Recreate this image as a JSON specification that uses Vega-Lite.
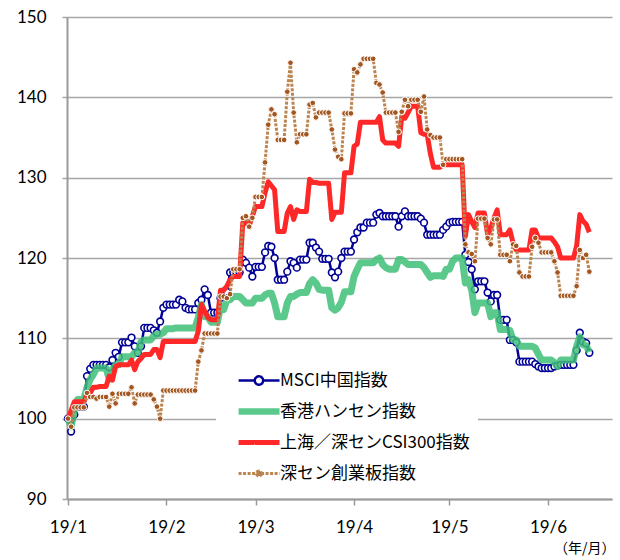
{
  "$schema": "https://vega.github.io/schema/vega-lite/v6.json",
  "width": 545,
  "height": 482,
  "autosize": {"type": "none"},
  "padding": {"left": 67, "top": 17, "right": 8, "bottom": 61},
  "background": "white",
  "config": {"view": {"stroke": null}, "font": "Lato"},
  "data": {"values": [
    {"d":"2019-01-01","m":100,"h":100,"c":100,"s":100},
    {"d":"2019-01-02","m":98.4,"h":99.0,"c":101.0,"s":99.0},
    {"d":"2019-01-03","m":100.5,"h":101.0,"c":102.1,"s":101.4},
    {"d":"2019-01-04","m":101.5,"h":102.4,"c":102.1,"s":101.4},
    {"d":"2019-01-05","m":101.5,"h":102.4,"c":102.1,"s":101.4},
    {"d":"2019-01-06","m":101.5,"h":102.4,"c":102.1,"s":101.4},
    {"d":"2019-01-07","m":105.3,"h":103.9,"c":103.0,"s":103.2},
    {"d":"2019-01-08","m":106.2,"h":104.9,"c":103.2,"s":102.7},
    {"d":"2019-01-09","m":106.7,"h":105.5,"c":103.9,"s":102.7},
    {"d":"2019-01-10","m":106.7,"h":106.3,"c":103.9,"s":102.5},
    {"d":"2019-01-11","m":106.7,"h":106.3,"c":104.0,"s":102.7},
    {"d":"2019-01-12","m":106.7,"h":106.3,"c":104.0,"s":102.7},
    {"d":"2019-01-13","m":106.7,"h":106.3,"c":104.0,"s":102.7},
    {"d":"2019-01-14","m":106.4,"h":104.9,"c":105.3,"s":101.5},
    {"d":"2019-01-15","m":107.3,"h":106.1,"c":104.8,"s":103.1},
    {"d":"2019-01-16","m":108.2,"h":106.7,"c":106.5,"s":101.9},
    {"d":"2019-01-17","m":107.7,"h":106.7,"c":106.7,"s":103.1},
    {"d":"2019-01-18","m":109.5,"h":107.7,"c":106.7,"s":103.1},
    {"d":"2019-01-19","m":109.5,"h":107.7,"c":106.7,"s":103.1},
    {"d":"2019-01-20","m":109.5,"h":107.7,"c":106.7,"s":103.1},
    {"d":"2019-01-21","m":110.1,"h":107.7,"c":107.3,"s":103.9},
    {"d":"2019-01-22","m":109.0,"h":108.2,"c":106.1,"s":101.9},
    {"d":"2019-01-23","m":108.2,"h":108.2,"c":107.1,"s":103.0},
    {"d":"2019-01-24","m":109.0,"h":109.6,"c":107.5,"s":103.0},
    {"d":"2019-01-25","m":111.3,"h":109.8,"c":108.0,"s":103.0},
    {"d":"2019-01-26","m":111.3,"h":109.8,"c":108.0,"s":103.0},
    {"d":"2019-01-27","m":111.3,"h":109.8,"c":108.0,"s":103.0},
    {"d":"2019-01-28","m":111.0,"h":110.3,"c":108.6,"s":102.4},
    {"d":"2019-01-29","m":110.7,"h":110.5,"c":108.6,"s":101.5},
    {"d":"2019-01-30","m":112.1,"h":110.5,"c":107.6,"s":100.0},
    {"d":"2019-01-31","m":113.8,"h":110.7,"c":109.6,"s":103.5},
    {"d":"2019-02-01","m":114.2,"h":111.2,"c":109.6,"s":103.5},
    {"d":"2019-02-02","m":114.2,"h":111.2,"c":109.6,"s":103.5},
    {"d":"2019-02-03","m":114.2,"h":111.2,"c":109.6,"s":103.5},
    {"d":"2019-02-04","m":114.2,"h":111.3,"c":109.6,"s":103.5},
    {"d":"2019-02-05","m":114.8,"h":111.3,"c":109.6,"s":103.5},
    {"d":"2019-02-06","m":114.6,"h":111.3,"c":109.6,"s":103.5},
    {"d":"2019-02-07","m":113.8,"h":111.3,"c":109.6,"s":103.5},
    {"d":"2019-02-08","m":113.6,"h":111.3,"c":109.6,"s":103.5},
    {"d":"2019-02-09","m":113.6,"h":111.3,"c":109.6,"s":103.5},
    {"d":"2019-02-10","m":113.6,"h":111.3,"c":109.6,"s":103.5},
    {"d":"2019-02-11","m":114.4,"h":112.6,"c":110.9,"s":107.1},
    {"d":"2019-02-12","m":114.8,"h":114.2,"c":114.2,"s":108.5},
    {"d":"2019-02-13","m":116.1,"h":112.7,"c":113.4,"s":110.6},
    {"d":"2019-02-14","m":115.4,"h":112.7,"c":112.6,"s":110.6},
    {"d":"2019-02-15","m":113.2,"h":112.0,"c":112.3,"s":110.6},
    {"d":"2019-02-16","m":113.2,"h":112.0,"c":112.3,"s":110.6},
    {"d":"2019-02-17","m":113.2,"h":112.0,"c":112.3,"s":110.6},
    {"d":"2019-02-18","m":115.0,"h":114.0,"c":116.0,"s":115.2},
    {"d":"2019-02-19","m":115.8,"h":113.6,"c":116.0,"s":115.2},
    {"d":"2019-02-20","m":115.8,"h":114.8,"c":116.5,"s":115.0},
    {"d":"2019-02-21","m":118.2,"h":114.8,"c":117.3,"s":115.5},
    {"d":"2019-02-22","m":118.2,"h":115.2,"c":117.7,"s":118.6},
    {"d":"2019-02-23","m":118.2,"h":115.2,"c":117.7,"s":118.6},
    {"d":"2019-02-24","m":118.2,"h":115.2,"c":117.7,"s":118.6},
    {"d":"2019-02-25","m":119.8,"h":114.8,"c":124.4,"s":125.0},
    {"d":"2019-02-26","m":119.4,"h":114.4,"c":124.4,"s":125.2},
    {"d":"2019-02-27","m":118.8,"h":114.4,"c":124.0,"s":123.9},
    {"d":"2019-02-28","m":117.7,"h":114.4,"c":125.2,"s":125.0},
    {"d":"2019-03-01","m":118.9,"h":115.0,"c":126.4,"s":127.6},
    {"d":"2019-03-02","m":118.9,"h":115.0,"c":126.4,"s":127.6},
    {"d":"2019-03-03","m":118.9,"h":115.0,"c":126.4,"s":127.6},
    {"d":"2019-03-04","m":120.7,"h":115.4,"c":128.1,"s":131.9},
    {"d":"2019-03-05","m":121.5,"h":115.6,"c":129.5,"s":136.6},
    {"d":"2019-03-06","m":121.4,"h":115.6,"c":129.0,"s":138.5},
    {"d":"2019-03-07","m":120.0,"h":114.4,"c":128.5,"s":137.9},
    {"d":"2019-03-08","m":117.3,"h":112.7,"c":123.3,"s":134.7},
    {"d":"2019-03-09","m":117.3,"h":112.7,"c":123.3,"s":134.7},
    {"d":"2019-03-10","m":117.3,"h":112.7,"c":123.3,"s":134.7},
    {"d":"2019-03-11","m":118.3,"h":114.4,"c":125.6,"s":140.7},
    {"d":"2019-03-12","m":119.6,"h":115.2,"c":126.4,"s":144.3},
    {"d":"2019-03-13","m":119.4,"h":115.2,"c":124.8,"s":138.1},
    {"d":"2019-03-14","m":118.8,"h":115.5,"c":126.0,"s":134.4},
    {"d":"2019-03-15","m":119.8,"h":115.7,"c":125.8,"s":135.4},
    {"d":"2019-03-16","m":119.8,"h":115.7,"c":125.8,"s":135.4},
    {"d":"2019-03-17","m":119.8,"h":115.7,"c":125.8,"s":135.4},
    {"d":"2019-03-18","m":121.9,"h":116.8,"c":129.8,"s":139.1},
    {"d":"2019-03-19","m":121.9,"h":117.3,"c":129.4,"s":139.3},
    {"d":"2019-03-20","m":121.3,"h":116.9,"c":129.4,"s":137.5},
    {"d":"2019-03-21","m":120.8,"h":116.1,"c":129.3,"s":138.1},
    {"d":"2019-03-22","m":119.9,"h":116.0,"c":129.3,"s":138.1},
    {"d":"2019-03-23","m":119.9,"h":116.0,"c":129.3,"s":138.1},
    {"d":"2019-03-24","m":119.9,"h":116.0,"c":129.3,"s":138.1},
    {"d":"2019-03-25","m":118.2,"h":113.8,"c":124.8,"s":136.0},
    {"d":"2019-03-26","m":117.6,"h":113.5,"c":125.7,"s":133.5},
    {"d":"2019-03-27","m":118.3,"h":113.8,"c":125.7,"s":132.6},
    {"d":"2019-03-28","m":120.0,"h":114.5,"c":125.7,"s":132.3},
    {"d":"2019-03-29","m":120.8,"h":115.8,"c":130.6,"s":138.0},
    {"d":"2019-03-30","m":120.8,"h":115.8,"c":130.6,"s":138.0},
    {"d":"2019-03-31","m":120.8,"h":115.8,"c":130.6,"s":138.0},
    {"d":"2019-04-01","m":122.3,"h":117.7,"c":133.9,"s":143.5},
    {"d":"2019-04-02","m":123.2,"h":118.6,"c":134.2,"s":143.1},
    {"d":"2019-04-03","m":123.8,"h":119.4,"c":136.9,"s":144.1},
    {"d":"2019-04-04","m":123.8,"h":119.4,"c":136.9,"s":144.8},
    {"d":"2019-04-05","m":124.4,"h":119.4,"c":136.9,"s":144.8},
    {"d":"2019-04-06","m":124.4,"h":119.4,"c":136.9,"s":144.8},
    {"d":"2019-04-07","m":124.4,"h":119.4,"c":136.9,"s":144.8},
    {"d":"2019-04-08","m":125.4,"h":119.8,"c":136.9,"s":141.8},
    {"d":"2019-04-09","m":125.6,"h":120.0,"c":137.6,"s":141.6},
    {"d":"2019-04-10","m":125.2,"h":119.2,"c":134.7,"s":140.6},
    {"d":"2019-04-11","m":125.2,"h":118.8,"c":134.3,"s":138.1},
    {"d":"2019-04-12","m":125.2,"h":118.6,"c":134.3,"s":138.1},
    {"d":"2019-04-13","m":125.2,"h":118.6,"c":134.3,"s":138.1},
    {"d":"2019-04-14","m":125.2,"h":118.6,"c":134.3,"s":138.1},
    {"d":"2019-04-15","m":123.9,"h":119.8,"c":133.9,"s":135.7},
    {"d":"2019-04-16","m":125.2,"h":119.8,"c":137.6,"s":138.2},
    {"d":"2019-04-17","m":125.8,"h":119.5,"c":137.4,"s":139.7},
    {"d":"2019-04-18","m":125.2,"h":119.2,"c":138.1,"s":138.9},
    {"d":"2019-04-19","m":125.2,"h":119.2,"c":138.9,"s":139.7},
    {"d":"2019-04-20","m":125.2,"h":119.2,"c":138.9,"s":139.7},
    {"d":"2019-04-21","m":125.2,"h":119.2,"c":138.9,"s":139.7},
    {"d":"2019-04-22","m":124.9,"h":119.2,"c":135.6,"s":138.2},
    {"d":"2019-04-23","m":124.4,"h":118.8,"c":135.4,"s":140.1},
    {"d":"2019-04-24","m":122.9,"h":118.2,"c":135.4,"s":136.0},
    {"d":"2019-04-25","m":122.9,"h":117.6,"c":133.0,"s":135.3},
    {"d":"2019-04-26","m":122.9,"h":117.8,"c":131.3,"s":135.0},
    {"d":"2019-04-27","m":122.9,"h":117.8,"c":131.3,"s":135.0},
    {"d":"2019-04-28","m":122.9,"h":117.8,"c":131.3,"s":135.0},
    {"d":"2019-04-29","m":123.5,"h":117.7,"c":131.6,"s":131.6},
    {"d":"2019-04-30","m":123.9,"h":118.6,"c":131.6,"s":132.3},
    {"d":"2019-05-01","m":124.4,"h":118.6,"c":131.6,"s":132.3},
    {"d":"2019-05-02","m":124.5,"h":119.6,"c":131.6,"s":132.3},
    {"d":"2019-05-03","m":124.5,"h":120.0,"c":131.6,"s":132.3},
    {"d":"2019-05-04","m":124.5,"h":120.0,"c":131.6,"s":132.3},
    {"d":"2019-05-05","m":124.5,"h":120.0,"c":131.6,"s":132.3},
    {"d":"2019-05-06","m":120.4,"h":116.9,"c":122.7,"s":121.7},
    {"d":"2019-05-07","m":119.5,"h":117.3,"c":125.4,"s":120.7},
    {"d":"2019-05-08","m":118.6,"h":116.0,"c":124.5,"s":120.5},
    {"d":"2019-05-09","m":116.1,"h":113.2,"c":123.8,"s":119.6},
    {"d":"2019-05-10","m":117.1,"h":114.4,"c":125.6,"s":124.9},
    {"d":"2019-05-11","m":117.1,"h":114.4,"c":125.6,"s":124.9},
    {"d":"2019-05-12","m":117.1,"h":114.4,"c":125.6,"s":124.9},
    {"d":"2019-05-13","m":115.7,"h":114.4,"c":122.9,"s":122.5},
    {"d":"2019-05-14","m":114.6,"h":112.7,"c":123.7,"s":121.7},
    {"d":"2019-05-15","m":115.4,"h":113.2,"c":125.0,"s":124.8},
    {"d":"2019-05-16","m":115.4,"h":113.2,"c":126.0,"s":124.8},
    {"d":"2019-05-17","m":112.3,"h":111.1,"c":122.9,"s":120.4},
    {"d":"2019-05-18","m":112.3,"h":111.1,"c":122.9,"s":120.4},
    {"d":"2019-05-19","m":112.3,"h":111.1,"c":122.9,"s":120.4},
    {"d":"2019-05-20","m":109.8,"h":111.0,"c":123.5,"s":119.6},
    {"d":"2019-05-21","m":109.8,"h":109.8,"c":121.9,"s":121.7},
    {"d":"2019-05-22","m":109.5,"h":109.8,"c":121.0,"s":121.5},
    {"d":"2019-05-23","m":107.1,"h":109.0,"c":121.0,"s":118.2},
    {"d":"2019-05-24","m":107.1,"h":109.0,"c":121.0,"s":117.7},
    {"d":"2019-05-25","m":107.1,"h":109.0,"c":121.0,"s":117.7},
    {"d":"2019-05-26","m":107.1,"h":109.0,"c":121.0,"s":117.7},
    {"d":"2019-05-27","m":107.1,"h":109.0,"c":123.5,"s":121.4},
    {"d":"2019-05-28","m":106.8,"h":108.8,"c":123.5,"s":122.5},
    {"d":"2019-05-29","m":106.5,"h":108.0,"c":122.5,"s":121.9},
    {"d":"2019-05-30","m":106.3,"h":107.3,"c":122.5,"s":120.7},
    {"d":"2019-05-31","m":106.3,"h":107.3,"c":122.5,"s":120.7},
    {"d":"2019-06-01","m":106.3,"h":107.3,"c":122.5,"s":120.7},
    {"d":"2019-06-02","m":106.3,"h":107.3,"c":122.5,"s":120.7},
    {"d":"2019-06-03","m":106.5,"h":107.0,"c":122.0,"s":119.6},
    {"d":"2019-06-04","m":106.6,"h":106.5,"c":121.4,"s":118.2},
    {"d":"2019-06-05","m":106.7,"h":107.3,"c":120.0,"s":115.3},
    {"d":"2019-06-06","m":106.7,"h":107.3,"c":120.0,"s":115.3},
    {"d":"2019-06-07","m":106.7,"h":107.3,"c":120.0,"s":115.3},
    {"d":"2019-06-08","m":106.7,"h":107.3,"c":120.0,"s":115.3},
    {"d":"2019-06-09","m":106.7,"h":107.3,"c":120.0,"s":115.3},
    {"d":"2019-06-10","m":108.5,"h":109.0,"c":121.5,"s":116.5},
    {"d":"2019-06-11","m":110.7,"h":110.2,"c":125.4,"s":121.0},
    {"d":"2019-06-12","m":109.6,"h":109.2,"c":124.6,"s":120.0},
    {"d":"2019-06-13","m":109.4,"h":109.1,"c":124.2,"s":120.4},
    {"d":"2019-06-14","m":108.2,"h":108.3,"c":123.2,"s":118.3}
  ]},
  "transform": [{"fold": ["m", "h", "c", "s"], "as": ["series", "value"]}],
  "encoding": {
    "x": {
      "field": "d", "type": "temporal",
      "scale": {"type": "utc", "domain": [
        {"year": 2018, "month": 12, "date": 31, "hours": 17, "utc": true},
        {"year": 2019, "month": 6, "date": 21, "hours": 3, "utc": true}
      ]},
      "axis": {
        "values": [
          {"year": 2019, "month": 1, "date": 1, "utc": true},
          {"year": 2019, "month": 2, "date": 1, "utc": true},
          {"year": 2019, "month": 3, "date": 1, "utc": true},
          {"year": 2019, "month": 4, "date": 1, "utc": true},
          {"year": 2019, "month": 5, "date": 1, "utc": true},
          {"year": 2019, "month": 6, "date": 1, "utc": true}
        ],
        "labelExpr": "utcFormat(datum.value, '%y/%-m')",
        "labelOverlap": false, "labelFlush": false, "labelAlign": "center",
        "grid": false,
        "domainColor": "#9A9A9A", "domainWidth": 2,
        "tickColor": "#9A9A9A", "tickWidth": 1.5, "tickSize": 6,
        "labelFontSize": 17, "labelColor": "#000", "labelPadding": 14, "labelFont": "Lato",
        "title": "（年/月）", "titleFont": "Noto Sans CJK JP", "titleFontSize": 14, "titleFontWeight": "normal",
        "titleColor": "#000", "titleAlign": "right", "titleAnchor": "end", "titleX": 548, "titleY": 49, "titleBaseline": "middle"
      }
    },
    "y": {
      "field": "value", "type": "quantitative",
      "scale": {"domain": [90, 150], "nice": false, "zero": false},
      "axis": {
        "values": [90, 100, 110, 120, 130, 140, 150],
        "grid": true, "gridColor": "#A6A6A6", "gridWidth": 1.5,
        "domainColor": "#9A9A9A", "domainWidth": 2,
        "tickColor": "#A6A6A6", "tickWidth": 1.5, "tickSize": 5,
        "labelFontSize": 17, "labelColor": "#000", "labelPadding": 16, "labelFont": "Lato",
        "title": null
      }
    },
    "color": {"field": "series", "type": "nominal", "title": null,
      "scale": {"domain": ["m", "h", "c", "s"], "range": ["#000096", "rgba(62,190,120,0.85)", "#FF2828", "#BC8450"]},
      "legend": {
        "orient": "none", "legendX": 149, "legendY": 347, "direction": "vertical",
        "fillColor": "white", "padding": 8, "rowPadding": 4, "gridAlign": "all",
        "labelExpr": "datum.label == 'm' ? 'MSCI中国指数' : datum.label == 'h' ? '香港ハンセン指数' : datum.label == 'c' ? '上海／深センCSI300指数' : '深セン創業板指数'",
        "labelFont": "Noto Sans CJK JP", "labelFontSize": 17, "labelColor": "#000", "labelLimit": 400, "labelOffset": 39,
        "symbolSize": 1764, "symbolType": "stroke",
        "encode": {
          "symbols": {
            "update": {
              "size": {"value": 1764},
              "shape": {"signal": "datum.value == 'm' ? 'M0.29,0H1.06M1.46,0H2.24M1.46,0A0.2,0.2,0,1,1,1.06,0A0.2,0.2,0,1,1,1.46,0Z' : datum.value == 's' ? 'M0.29,0H2.24M1.38,0A0.12,0.12,0,1,1,1.14,0A0.12,0.12,0,1,1,1.38,0Z' : 'M0.29,0H2.24'"},
              "strokeWidth": {"signal": "datum.value == 'h' ? 6.5 : datum.value == 'c' ? 5 : datum.value == 's' ? 3 : 2.5"},
              "strokeDash": {"signal": "datum.value == 's' ? [3, 1.5] : [1, 0]"},
              "fill": {"signal": "datum.value == 'm' ? 'white' : datum.value == 's' ? '#A3561F' : 'transparent'"},
              "opacity": {"value": 1}
            }
          }
        }
      }
    }
  },
  "layer": [
    {
      "transform": [{"filter": "datum.series == 'm'"}],
      "mark": {"type": "line", "strokeJoin": "round", "strokeWidth": 2.5}
    },
    {
      "transform": [{"filter": "datum.series == 'm'"}],
      "mark": {"type": "point", "shape": "circle", "filled": true, "fill": "white", "stroke": "#000096", "strokeWidth": 1.6, "size": 45, "opacity": 1},
      "encoding": {"color": {"value": "#000096"}}
    },
    {
      "transform": [{"filter": "datum.series == 'h'"}],
      "mark": {"type": "line", "strokeJoin": "round", "strokeWidth": 7}
    },
    {
      "transform": [{"filter": "datum.series == 'c'"}],
      "mark": {"type": "line", "strokeJoin": "round", "strokeWidth": 5}
    },
    {
      "transform": [{"filter": "datum.series == 's'"}],
      "mark": {"type": "line", "strokeJoin": "round", "strokeWidth": 3, "strokeDash": [3, 1.5]}
    },
    {
      "transform": [{"filter": "datum.series == 's'"}],
      "mark": {"type": "point", "shape": "circle", "filled": true, "fill": "#A3561F", "stroke": "white", "strokeWidth": 1, "size": 32, "opacity": 1},
      "encoding": {"color": {"value": "#A3561F"}}
    }
  ]
}
